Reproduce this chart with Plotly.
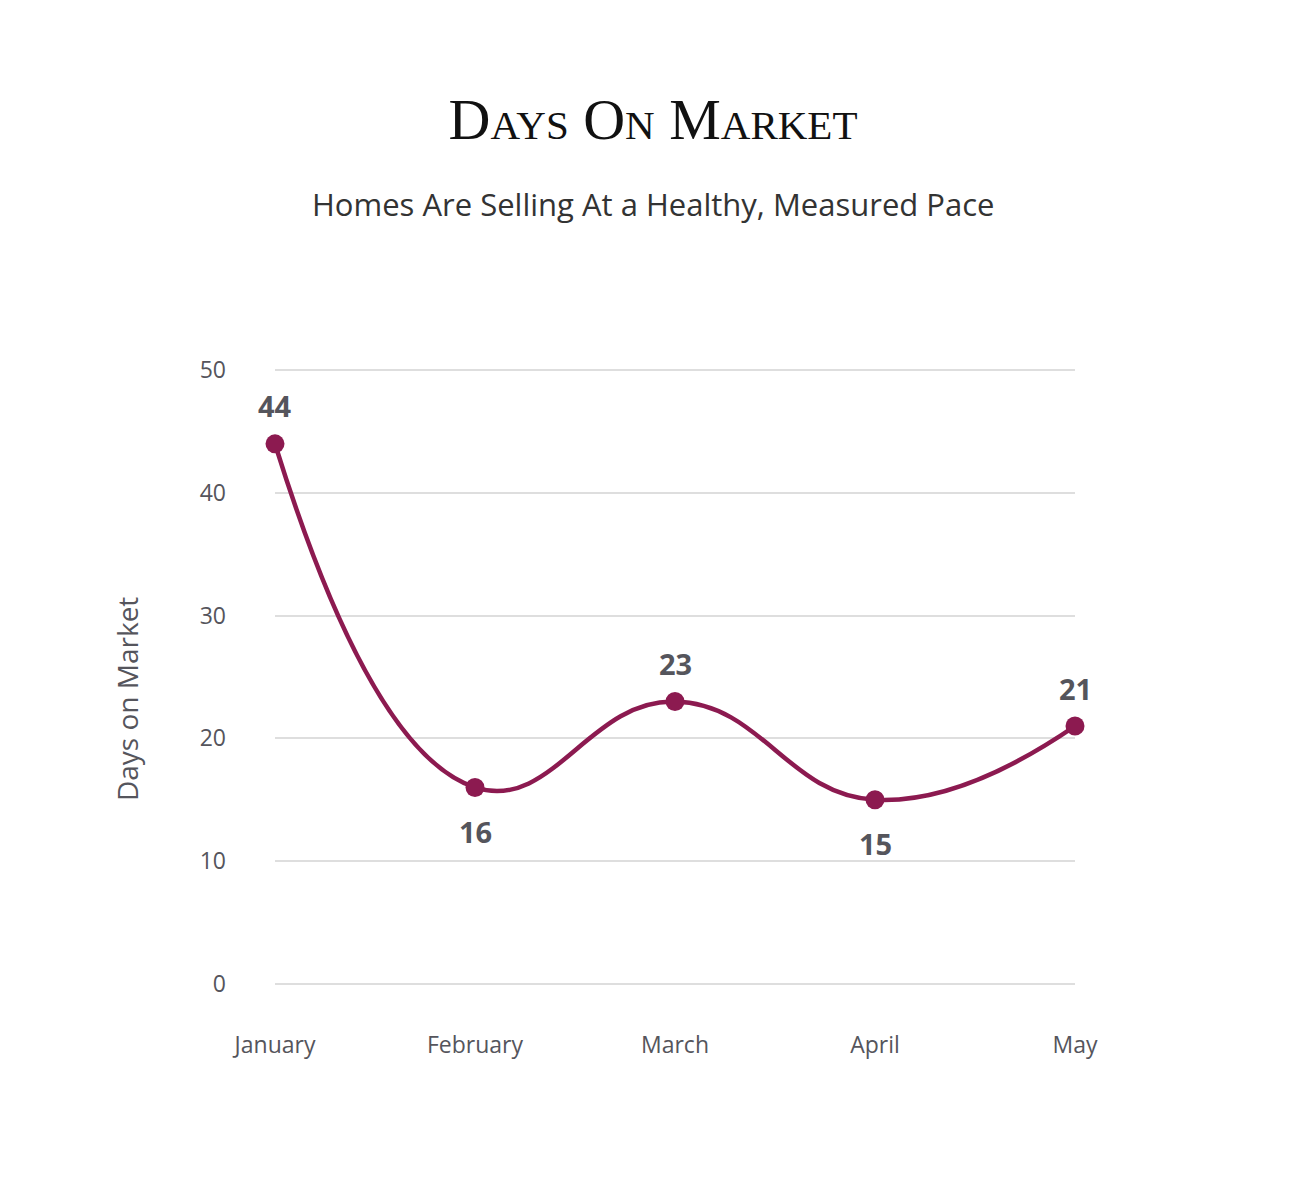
import plotly.graph_objects as go

months = ["January", "February", "March", "April", "May"]
days = [44, 16, 23, 15, 21]
label_side = ["top", "bottom", "top", "bottom", "top"]
y_ticks = [0, 10, 20, 30, 40, 50]

line_color = "#8C1A50"
text_color = "#55555c"
sans = "Open Sans, Lato, sans-serif"

fig = go.Figure()
fig.add_trace(go.Scatter(
    x=months, y=days, mode="lines+markers",
    line=dict(color=line_color, width=4.5, shape="spline", smoothing=1.3),
    marker=dict(color=line_color, size=19),
    cliponaxis=False, hoverinfo="skip", showlegend=False,
))

for m, d, side in zip(months, days, label_side):
    fig.add_annotation(
        x=m, y=d, text=f"<b>{d}</b>", showarrow=False,
        yshift=38 if side == "top" else -44,
        font=dict(family=sans, size=29, color=text_color),
    )

fig.update_layout(
    width=1306, height=1200,
    margin=dict(l=275, r=231, t=369, b=215),
    paper_bgcolor="white", plot_bgcolor="white",
    title=dict(
        text="Days On Market",
        x=0.5, xref="container", xanchor="center", y=1 - 119 / 1200, yanchor="middle",
        font=dict(family="Liberation Serif, serif", size=58, color="#111", variant="small-caps"),
    ),
    xaxis=dict(
        type="category", range=[0, 4], showgrid=False, zeroline=False, showline=False,
        ticks="", ticklabelstandoff=44,
        tickfont=dict(family=sans, size=23, color=text_color),
    ),
    yaxis=dict(
        range=[-0.1, 50.1], tickvals=y_ticks, showgrid=True, gridcolor="#dedede", gridwidth=2,
        zeroline=False, showline=False, ticks="", ticklabelstandoff=48,
        tickfont=dict(family=sans, size=23, color=text_color),
    ),
)

fig.add_annotation(
    text="Days on Market", textangle=-90,
    xref="paper", yref="paper", x=(127 - 275) / 800, y=(984 - 699) / 614,
    xanchor="center", yanchor="middle", showarrow=False,
    font=dict(family=sans, size=28, color=text_color),
)

fig.add_annotation(
    text="Homes Are Selling At a Healthy, Measured Pace",
    xref="paper", yref="paper", x=(653 - 275) / 800, y=1 + (369 - 204) / 616,
    xanchor="center", yanchor="middle", showarrow=False,
    font=dict(family=sans, size=31, color="#333333"),
)

fig.write_html("out.html")
